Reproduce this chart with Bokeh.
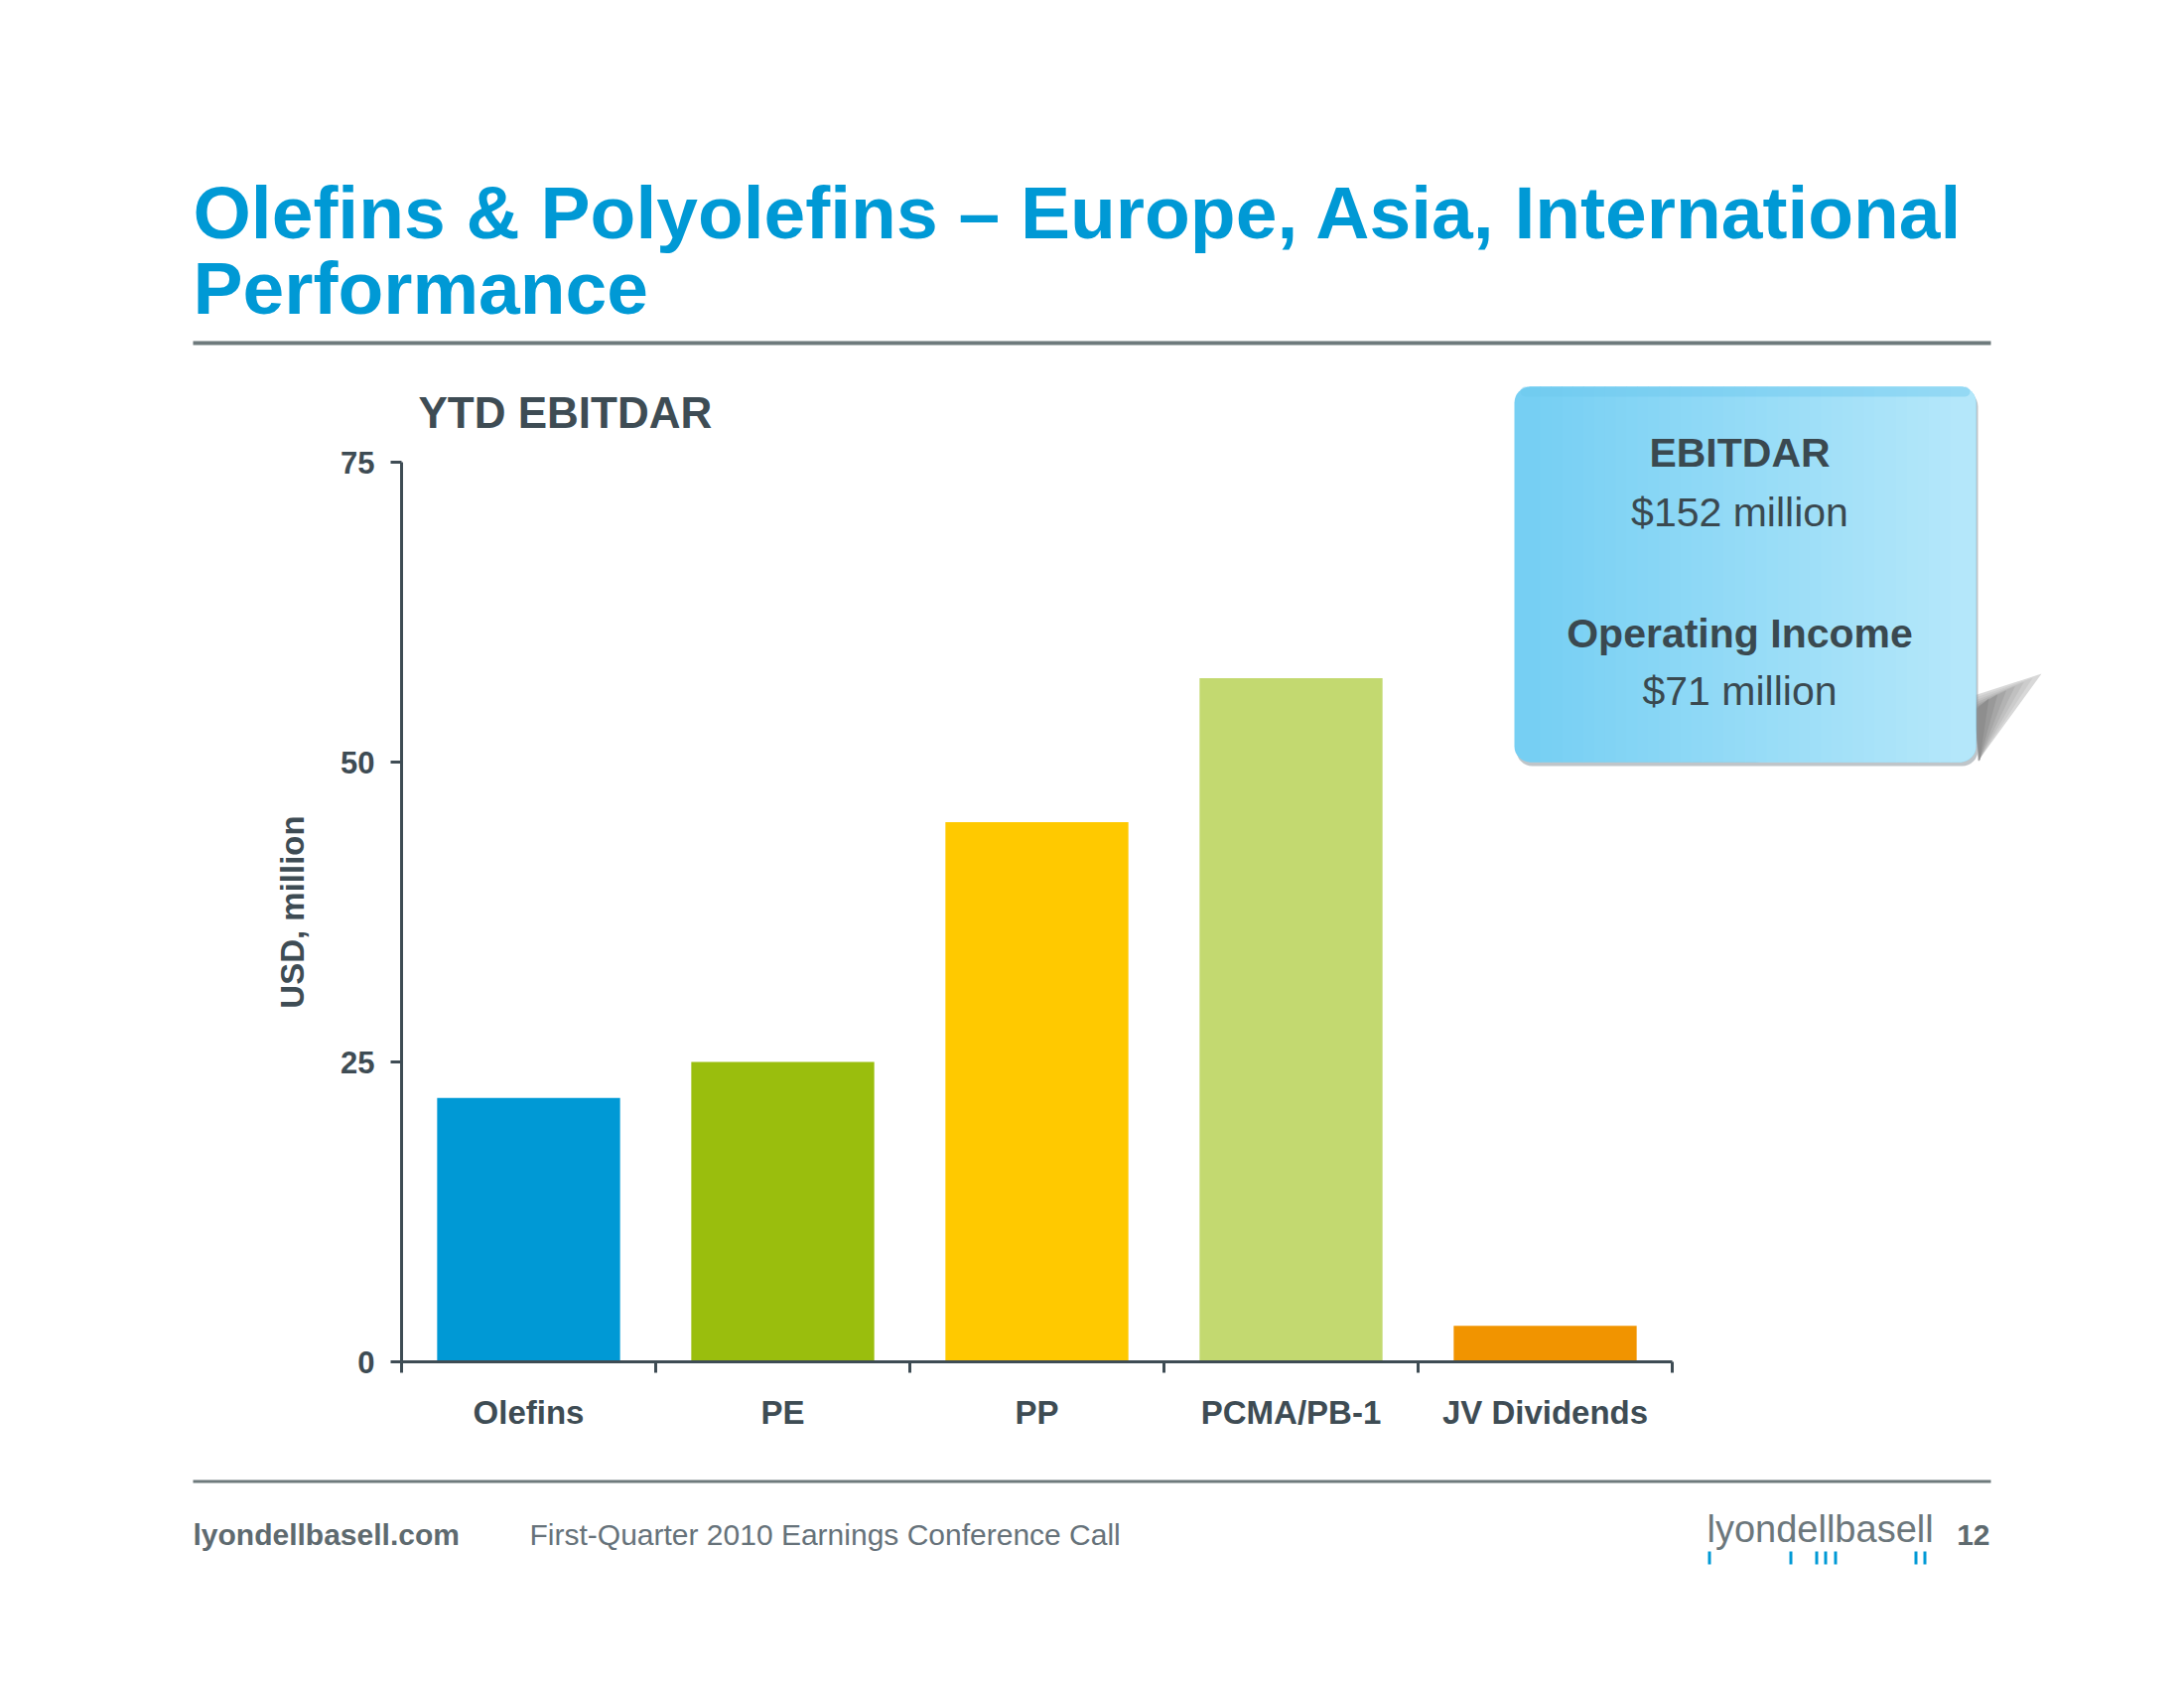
from bokeh.plotting import figure
from bokeh.models import Range1d, FixedTicker, Label, BoxAnnotation, PolyAnnotation, ColumnDataSource
from bokeh.embed import file_html
from bokeh.resources import INLINE
import numpy as np

# ---------------- data ----------------
categories = ["Olefins", "PE", "PP", "PCMA/PB-1", "JV Dividends"]
values = [22, 25, 45, 57, 3]
bar_colors = ["#0099D5", "#9ABE0D", "#FFC900", "#C3D970", "#F19400"]
y_ticks = [0, 25, 50, 75]
y_max = 75

slide_title = ["Olefins & Polyolefins \u2013 Europe, Asia, International", "Performance"]
chart_title = "YTD EBITDAR"
y_label = "USD, million"
box_lines = [("EBITDAR", "bold"), ("$152 million", "normal"),
             ("Operating Income", "bold"), ("$71 million", "normal")]
footer_site = "lyondellbasell.com"
footer_event = "First-Quarter 2010 Earnings Conference Call"
page_number = "12"
logo_text = "lyondellbasell"

# ---------------- layout ----------------
FONT = "Liberation Sans"
DARK = "#3E4C54"
BLUE = "#0099D5"
W, H = 2184, 1684
# chart area in canvas coordinates (frame covers the whole canvas)
AL, AR, AT, AB = 404, 1684, 465, 1371
ncat = len(categories)
px_x = (AR - AL) / ncat
px_y = (AB - AT) / y_max
x_range = Range1d(-AL / px_x, ncat + (W - AR) / px_x)
y_range = Range1d(-(H - AB) / px_y, y_max + AT / px_y)

p = figure(width=W, height=H, x_range=x_range, y_range=y_range,
           output_backend="svg", toolbar_location=None,
           min_border_left=0, min_border_right=0, min_border_top=0, min_border_bottom=0)
p.outline_line_color = None
p.grid.visible = False
p.background_fill_color = "white"
p.border_fill_color = "white"

centers = [i + 0.5 for i in range(ncat)]
src = ColumnDataSource(dict(x=centers, top=values, color=bar_colors))
p.vbar(x="x", top="top", bottom=0, width=0.72, fill_color="color", line_color=None, source=src)

# x axis: labels at centres, ticks at category boundaries
xa = p.xaxis[0]
xa.fixed_location = 0
xa.bounds = (0, ncat)
xa.ticker = FixedTicker(ticks=centers, minor_ticks=list(range(ncat + 1)))
xa.major_label_overrides = {c: cat for c, cat in zip(centers, categories)}
xa.major_tick_out = 0
xa.major_tick_in = 0
xa.minor_tick_out = 11
xa.minor_tick_in = 0
xa.minor_tick_line_color = DARK
xa.minor_tick_line_width = 3
xa.axis_line_color = DARK
xa.axis_line_width = 3
xa.major_label_standoff = 21
xa.major_label_text_font = FONT
xa.major_label_text_font_style = "bold"
xa.major_label_text_font_size = "33px"
xa.major_label_text_color = DARK

ya = p.yaxis[0]
ya.fixed_location = 0
ya.bounds = (0, y_max)
ya.ticker = FixedTicker(ticks=y_ticks, minor_ticks=[])
ya.major_tick_out = 11
ya.major_tick_in = 0
ya.major_tick_line_color = DARK
ya.major_tick_line_width = 3
ya.minor_tick_out = 0
ya.minor_tick_in = 0
ya.axis_line_color = DARK
ya.axis_line_width = 3
ya.major_label_standoff = 16
ya.major_label_text_font = FONT
ya.major_label_text_font_style = "bold"
ya.major_label_text_font_size = "31px"
ya.major_label_text_color = DARK
ya.axis_label = y_label
ya.axis_label_text_font = FONT
ya.axis_label_text_font_style = "bold"
ya.axis_label_text_font_size = "33px"
ya.axis_label_text_color = DARK
ya.axis_label_standoff = 27


# canvas coords (y down) -> frame screen units (y up)
def sx(X):
    return X


def sy(Y):
    return H - Y


def label(text, X, Y, size, style="normal", color=DARK, align="left", font=FONT):
    # Y is the wanted baseline; compensate the renderer's baseline offset
    p.add_layout(Label(x=sx(X), y=sy(Y - 0.40 * size), x_units="screen", y_units="screen", text=text,
                       text_font=font, text_font_size=f"{size}px", text_font_style=style,
                       text_color=color, text_align=align, text_baseline="alphabetic"))


def box(l, r, t, b, color, alpha=1.0, radius=0):
    p.add_layout(BoxAnnotation(left=sx(l), right=sx(r), top=sy(t), bottom=sy(b),
                               left_units="screen", right_units="screen",
                               top_units="screen", bottom_units="screen",
                               fill_color=color, fill_alpha=alpha, line_color=None,
                               border_radius=radius))


def poly(pts, color, alpha=1.0):
    p.add_layout(PolyAnnotation(xs=[sx(a) for a, _ in pts], ys=[sy(b) for _, b in pts],
                                xs_units="screen", ys_units="screen",
                                fill_color=color, fill_alpha=alpha, line_color=None))


# slide title + rules
label(slide_title[0], 194, 243, 75, "bold", BLUE)
label(slide_title[1], 194, 319, 75, "bold", BLUE)
box(194, 2005, 343, 347, "#6E7A7C")
box(194, 2005, 1490, 1493, "#6E7A7C")

# chart title
label(chart_title, 421, 433, 44, "bold", DARK)

# info box with shadow (fading wedge on the right)
tip = (2056, 678)
shade = ["#D8D8D8", "#CCCCCC", "#C0C0C0", "#B3B3B3", "#A6A6A6", "#999999", "#8E8E8E"]
for k, col in enumerate(shade):
    f = 1 - k * 0.13
    poly([(1988, 700 + (1 - f) * 20), (1988 + (tip[0] - 1988) * f, 700 + (tip[1] - 700) * f + (1 - f) * 10),
          (1992 + (1 - f) * 2, 766)], col)
BL, BR, BT, BBm = 1525, 1990, 389, 767
box(BL + 2, BR + 2, BT + 4, BBm + 4, "#8A969C", 0.55, 16)
c0 = np.array([0x76, 0xCF, 0xF3])
c1 = np.array([0xB4, 0xE7, 0xFA])
box(BL, BR, BT, BBm, "#%02X%02X%02X" % tuple(c0), 1.0, 16)
box((BL + BR) / 2, BR, BT, BBm, "#%02X%02X%02X" % tuple(c1), 1.0, 16)
n = 40
edges = np.linspace(BL + 15, BR - 15, n + 1)
for i in range(n):
    t = i / (n - 1)
    c = (c0 + (c1 - c0) * t).round().astype(int)
    box(edges[i], edges[i + 1] + 0.8, BT, BBm, "#%02X%02X%02X" % tuple(c), 1.0, 0)
box(BL + 6, BR - 6, BT, BT + 10, "#6CC8EE", 0.45, 8)

box_y = [472, 532, 654, 712]
for (txt, style), yy in zip(box_lines, box_y):
    label(txt, 1752, yy, 41, style, "#3A4950", "center")

# footer
label(footer_site, 194, 1557, 30, "bold", "#5E6A6F")
label(footer_event, 533, 1557, 30, "normal", "#66727A")
label(page_number, 2004, 1557, 30, "bold", "#5E6A6F", "right")
label(logo_text, 1719, 1555, 38, "normal", "#6C777C", "left")
for lx in [1721, 1803, 1829, 1838, 1848, 1929, 1938]:
    box(lx - 1, lx + 2, 1562, 1575, BLUE, 1.0, 0)

open("out.html", "w").write(file_html(p, INLINE))
